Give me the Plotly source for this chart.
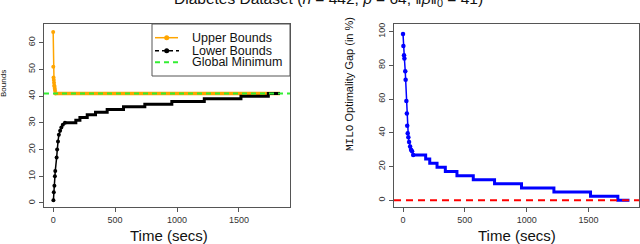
import plotly.graph_objects as go

W, H = 640, 244

# ---------------- data ----------------
# Left panel: upper bounds (orange)
ub_time = [0, 1, 3, 5, 7, 9, 11, 13, 15, 18, 1831]
ub_value = [64, 51, 47, 46, 45, 44, 43.5, 42.8, 42, 41, 41]
ub_n_early = 10  # points drawn with markers

# Left panel: lower bounds (black) - early rise with markers
lb_early_time = [2, 5, 10, 14, 17, 28, 32, 39, 46, 56, 66, 78, 95]
lb_early_value = [1, 4, 6.5, 10, 12, 17, 20, 23, 25.5, 27, 28.3, 29.3, 30]
# lower bounds - step part
lb_step_time = [95, 183, 216, 275, 342, 436, 568, 740, 958, 1220, 1516, 1737, 1831]
lb_step_value = [30, 31, 32, 33, 34, 35, 36, 37, 38, 39, 40, 41, 41]

global_min = 41

# Right panel: MILO optimality gap (%)
gap_early_time = [0, 3, 8, 11, 18, 21, 27, 31, 34, 38, 43, 49, 57, 65, 73, 82]
gap_early_value = [98.5, 91.4, 86, 84, 76.5, 71.4, 58.8, 51.4, 44.2, 39.8, 37.3, 34.5, 31.9, 29.9, 29, 26.8]
gap_step_time = [82, 183, 216, 275, 342, 436, 568, 740, 958, 1220, 1516, 1737, 1831]
gap_step_value = [26.8, 24.4, 22.0, 19.5, 17.1, 14.6, 12.2, 9.8, 7.3, 4.9, 2.4, 0, 0]

x_ticks = [0, 500, 1000, 1500]
y_ticks_left = [0, 10, 20, 30, 40, 50, 60]
y_ticks_right = [0, 20, 40, 60, 80, 100]

legend_labels = ["Upper Bounds", "Lower Bounds", "Global Minimum"]

# ---------------- helpers ----------------
def px(x):
    return x / W

def py(y):
    return 1 - y / H

FONT = "Liberation Sans, Arial, sans-serif"
ORANGE = "#FFA500"
GREEN = "#33EE33"
BLUE = "#0000FF"
RED = "#FF0000"
FRAME = "#555555"

fig = go.Figure()

# Upper bounds
fig.add_trace(go.Scatter(x=ub_time[:ub_n_early], y=ub_value[:ub_n_early], mode="lines+markers",
                         line=dict(color=ORANGE, width=1.5), marker=dict(color=ORANGE, size=4),
                         xaxis="x", yaxis="y", showlegend=False))
fig.add_trace(go.Scatter(x=ub_time[ub_n_early - 1:], y=ub_value[ub_n_early - 1:], mode="lines",
                         line=dict(color=ORANGE, width=3.5), xaxis="x", yaxis="y", showlegend=False))
# Lower bounds
fig.add_trace(go.Scatter(x=lb_early_time, y=lb_early_value, mode="lines+markers",
                         line=dict(color="black", width=1.5), marker=dict(color="black", size=4),
                         xaxis="x", yaxis="y", showlegend=False))
fig.add_trace(go.Scatter(x=lb_step_time, y=lb_step_value, mode="lines", line_shape="hv",
                         line=dict(color="black", width=3), xaxis="x", yaxis="y", showlegend=False))

# Gap
fig.add_trace(go.Scatter(x=gap_early_time, y=gap_early_value, mode="lines+markers",
                         line=dict(color=BLUE, width=1.5), marker=dict(color=BLUE, size=4.5),
                         xaxis="x2", yaxis="y2", showlegend=False))
fig.add_trace(go.Scatter(x=gap_step_time, y=gap_step_value, mode="lines", line_shape="hv",
                         line=dict(color=BLUE, width=3), xaxis="x2", yaxis="y2", showlegend=False))

shapes = []
# global minimum (abline)
shapes.append(dict(type="line", xref="x domain", yref="y", x0=0, x1=1, y0=global_min, y1=global_min,
                   line=dict(color=GREEN, width=2, dash="5px,4px"), layer="above"))
# zero gap (abline)
shapes.append(dict(type="line", xref="x2 domain", yref="y2", x0=0, x1=1, y0=0, y1=0,
                   line=dict(color=RED, width=2, dash="7px,5px"), layer="above"))

# legend box
shapes.append(dict(type="rect", xref="paper", yref="paper", x0=px(152), x1=px(290), y0=py(76), y1=py(24),
                   line=dict(color=FRAME, width=1), fillcolor="white", layer="above"))
leg_y = [37.7, 50.7, 62.3]
shapes.append(dict(type="line", xref="paper", yref="paper", x0=px(155), x1=px(178), y0=py(leg_y[0]), y1=py(leg_y[0]),
                   line=dict(color=ORANGE, width=1.5), layer="above"))
shapes.append(dict(type="line", xref="paper", yref="paper", x0=px(155), x1=px(179), y0=py(leg_y[1]), y1=py(leg_y[1]),
                   line=dict(color="black", width=1.5, dash="4px,3px"), layer="above"))
shapes.append(dict(type="line", xref="paper", yref="paper", x0=px(155), x1=px(179), y0=py(leg_y[2]), y1=py(leg_y[2]),
                   line=dict(color=GREEN, width=2, dash="5px,4px"), layer="above"))
for yy, col in [(leg_y[0], ORANGE), (leg_y[1], "black")]:
    shapes.append(dict(type="circle", xref="paper", yref="paper", x0=px(166.7 - 2.5), x1=px(166.7 + 2.5),
                       y0=py(yy + 2.5), y1=py(yy - 2.5), line=dict(color=col, width=0), fillcolor=col,
                       layer="above"))

annotations = []
for lab, yy in zip(legend_labels, leg_y):
    annotations.append(dict(text=lab, xref="paper", yref="paper", x=px(190), y=py(yy), xanchor="left",
                            yanchor="middle", showarrow=False, font=dict(family=FONT, size=12.5, color="#111")))

# title (partially cut at top, as in the reference)
annotations.append(dict(text="Diabetes Dataset (<i>n</i> = 442, <i>p</i> = 64, \u2016<i>\u03b2</i>\u2016<sub>0</sub> = 41)",
                        xref="paper", yref="paper", x=px(328), y=py(-1), xanchor="center", yanchor="middle",
                        showarrow=False, font=dict(family=FONT, size=15.5, color="#111")))
# axis titles
annotations.append(dict(text="Time (secs)", xref="paper", yref="paper", x=px(169), y=py(235), xanchor="center",
                        yanchor="middle", showarrow=False, font=dict(family=FONT, size=15, color="#111")))
annotations.append(dict(text="Time (secs)", xref="paper", yref="paper", x=px(517), y=py(235), xanchor="center",
                        yanchor="middle", showarrow=False, font=dict(family=FONT, size=15, color="#111")))
annotations.append(dict(text="Bounds", xref="paper", yref="paper", x=px(4), y=py(84), xanchor="center",
                        yanchor="middle", textangle=-90, showarrow=False,
                        font=dict(family=FONT, size=8, color="#111")))
annotations.append(dict(text="<span style=\"font-family:'Liberation Mono', monospace\">MILO</span> Optimality Gap (in %)",
                        xref="paper", yref="paper", x=px(350), y=py(84), xanchor="center",
                        yanchor="middle", textangle=-90, showarrow=False,
                        font=dict(family=FONT, size=11, color="#111")))

axis_common = dict(showline=True, mirror=True, linecolor=FRAME, linewidth=1, ticks="outside", ticklen=4,
                   tickcolor=FRAME, tickwidth=1, showgrid=False, zeroline=False,
                   tickfont=dict(family=FONT, size=9, color="#333"))

fig.update_layout(
    width=W, height=H, margin=dict(l=0, r=0, t=0, b=0),
    paper_bgcolor="white", plot_bgcolor="white", showlegend=False,
    xaxis=dict(domain=[px(44), px(290)], range=[-74, 1912], tickvals=x_ticks, anchor="y", **axis_common),
    yaxis=dict(domain=[py(207), py(24)], range=[-1.5, 67], tickvals=y_ticks_left, tickangle=-90, anchor="x",
               **axis_common),
    xaxis2=dict(domain=[px(394), px(639)], range=[-73, 1908], tickvals=x_ticks, anchor="y2", **axis_common),
    yaxis2=dict(domain=[py(207), py(24)], range=[-4, 104.5], tickvals=y_ticks_right, tickangle=-90,
                anchor="x2", **axis_common),
    shapes=shapes, annotations=annotations,
)

fig.write_html("out.html", config={"displayModeBar": False},
               post_script="document.body.style.margin='0';document.body.style.overflow='hidden';")
